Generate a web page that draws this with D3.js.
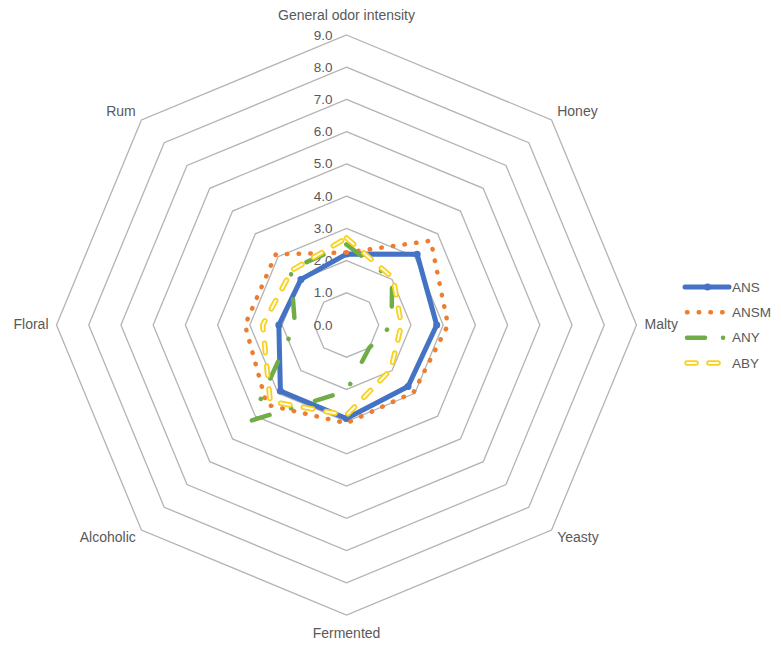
<!DOCTYPE html>
<html>
<head>
<meta charset="utf-8">
<title>Odor radar</title>
<script src="https://d3js.org/d3.v7.min.js"></script>
<style>
  body { margin: 0; background: #fff; }
  text { font-family: "Liberation Sans", Arial, sans-serif; fill: #595959; }
</style>
</head>
<body>
<script>
// chart data
var categories = ["General odor intensity", "Honey", "Malty", "Yeasty", "Fermented", "Alcoholic", "Floral", "Rum"]
var seriesNames = ["ANS", "ANSM", "ANY", "ABY"]
var ANS  = [2.2, 3.1, 2.8, 2.7, 2.9, 2.9, 2.1, 2.0]
var ANSM = [2.25, 3.7, 3.15, 2.95, 3.05, 3.5, 3.15, 3.1]
var ANY  = [2.5, 2.0, 1.4, 1.0, 2.05, 4.2, 1.6, 2.45]
var ABY  = [2.7, 2.05, 1.7, 1.95, 2.8, 3.35, 2.6, 2.4]
var ticks = [0, 1, 2, 3, 4, 5, 6, 7, 8, 9]

var width = 782
var height = 648
var cx = 346.5, cy = 325

var svg = d3.select("body").append("svg")
    .attr("width", width)
    .attr("height", height)

var r = d3.scaleLinear().domain([0, 9]).range([0, 290])
var angle = d3.scalePoint().domain(categories).range([0, 2 * Math.PI * 7 / 8])

function px(cat, v) { return cx + r(v) * Math.sin(angle(cat)) }
function py(cat, v) { return cy - r(v) * Math.cos(angle(cat)) }

// grid rings
var ringLine = d3.line().x(d => d[0]).y(d => d[1]).curve(d3.curveLinearClosed)
svg.append("g").selectAll("path")
    .data(ticks.slice(1))
    .enter().append("path")
    .attr("d", t => ringLine(categories.map(c => [px(c, t), py(c, t)])))
    .attr("fill", "none")
    .attr("stroke", "#b3b3b3")
    .attr("stroke-width", 1.3)

// tick labels
svg.append("g").selectAll("text")
    .data(ticks)
    .enter().append("text")
    .attr("x", cx - 14)
    .attr("y", t => cy - r(t) + 1)
    .attr("text-anchor", "end")
    .attr("dominant-baseline", "middle")
    .style("font-size", "13.5px")
    .text(t => d3.format(".1f")(t))

// category labels
svg.append("g").selectAll("text")
    .data(categories)
    .enter().append("text")
    .attr("x", c => px(c, 9) + Math.sin(angle(c)) * 8)
    .attr("y", c => {
        var co = Math.cos(angle(c))
        return py(c, 9) - co * (Math.abs(co) > 0.9 ? 19 : 11)
    })
    .attr("text-anchor", c => {
        var s = Math.sin(angle(c))
        return s > 0.1 ? "start" : (s < -0.1 ? "end" : "middle")
    })
    .attr("dominant-baseline", "middle")
    .style("font-size", "14px")
    .text(c => c)

// series styles
var styles = {
    ANS:  {color: "#4472c4", width: 5, dash: null, marker: true},
    ANSM: {color: "#ed7d31", width: 4.5, dash: "0.5,11.2"},
    ANY:  {color: "#70ad47", width: 4.5, dash: "18.5,25,0.1,22.5"},
    ABY:  {color: "#f7d11e", width: 5.5, dash: "9.5,13.5", inner: true}
}
var values = {ANS: ANS, ANSM: ANSM, ANY: ANY, ABY: ABY}

function drawLine(g, d, st) {
    var p = g.append("path")
        .attr("d", d)
        .attr("fill", "none")
        .attr("stroke", st.color)
        .attr("stroke-width", st.width)
        .attr("stroke-linecap", "round")
        .attr("stroke-linejoin", "round")
    if (st.dash) p.attr("stroke-dasharray", st.dash)
    if (st.inner) {
        g.append("path")
            .attr("d", d)
            .attr("fill", "none")
            .attr("stroke", "#fffbe6")
            .attr("stroke-width", 2)
            .attr("stroke-linecap", "round")
            .attr("stroke-dasharray", st.dash)
    }
}

seriesNames.forEach(function(name) {
    var st = styles[name]
    var pts = categories.map((c, i) => [px(c, values[name][i]), py(c, values[name][i])])
    var g = svg.append("g")
    drawLine(g, ringLine(pts), st)
    if (st.marker) {
        g.selectAll("circle").data(pts).enter().append("circle")
            .attr("cx", d => d[0]).attr("cy", d => d[1])
            .attr("r", 3.5).attr("fill", st.color)
    }
})

// legend
var legY = d3.scalePoint().domain(seriesNames).range([287, 363])
var legendDash = {ANS: null, ANSM: "0.5,11.2", ANY: "18,18,0.1,40", ABY: "9,13"}
var legend = svg.append("g")
seriesNames.forEach(function(name) {
    var st = Object.assign({}, styles[name], {dash: legendDash[name]})
    var y = legY(name)
    var g = legend.append("g")
    var x0 = name == "ANS" ? 685 : 687
    drawLine(g, d3.line()([[x0, y], [729, y]]), st)
    if (st.marker) {
        g.append("circle").attr("cx", 707.5).attr("cy", y).attr("r", 3.5).attr("fill", st.color)
    }
    g.append("text")
        .attr("x", 732)
        .attr("y", y + 1)
        .attr("dominant-baseline", "middle")
        .style("font-size", "13.5px")
        .text(name)
})
</script>
</body>
</html>
